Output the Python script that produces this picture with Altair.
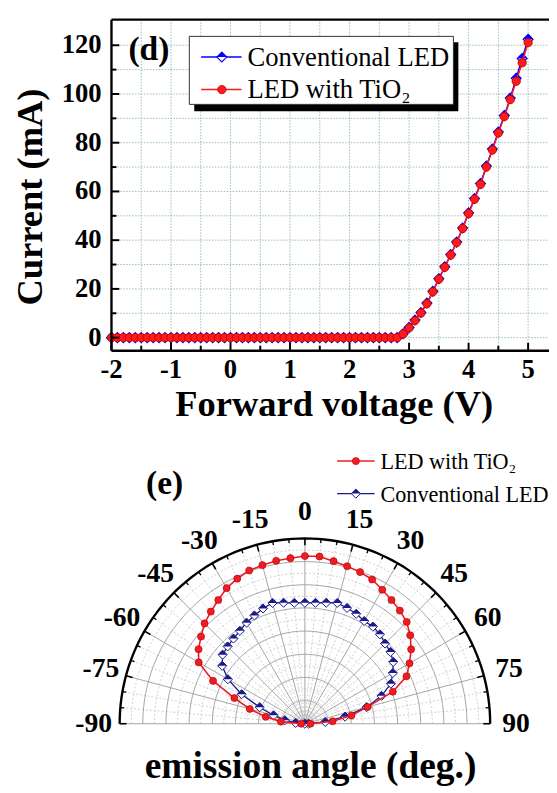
import altair as alt
import numpy as np
import pandas as pd

FONT = "Liberation Serif"

# ---------------- panel (d): I-V characteristics ----------------
voltage = [
    -2.0, -1.9, -1.8, -1.7, -1.6, -1.5, -1.4, -1.3, -1.2, -1.1,
    -1.0, -0.9, -0.8, -0.7, -0.6, -0.5, -0.4, -0.3, -0.2, -0.1,
    0.0, 0.1, 0.2, 0.3, 0.4, 0.5, 0.6, 0.7, 0.8, 0.9,
    1.0, 1.1, 1.2, 1.3, 1.4, 1.5, 1.6, 1.7, 1.8, 1.9,
    2.0, 2.1, 2.2, 2.3, 2.4, 2.5, 2.6, 2.7, 2.8, 2.9,
    3.0, 3.1, 3.2, 3.3, 3.4, 3.5, 3.6, 3.7, 3.8, 3.9,
    4.0, 4.1, 4.2, 4.3, 4.4, 4.5, 4.6, 4.7, 4.8, 4.9,
    5.0,
]
current_conventional = [
    0, 0, 0, 0, 0, 0, 0, 0, 0, 0,
    0, 0, 0, 0, 0, 0, 0, 0, 0, 0,
    0, 0, 0, 0, 0, 0, 0, 0, 0, 0,
    0, 0, 0, 0, 0, 0, 0, 0, 0, 0,
    0, 0, 0, 0, 0, 0, 0, 0, 0, 1.6,
    4.2, 7.2, 10.3, 14.2, 19.0, 24.2, 29.1, 34.1, 39.2, 45.0,
    51.2, 57.1, 63.3, 70.4, 77.4, 84.4, 91.2, 98.3, 106.5, 114.6,
    122.5,
]
current_tio2 = [
    0, 0, 0, 0, 0, 0, 0, 0, 0, 0,
    0, 0, 0, 0, 0, 0, 0, 0, 0, 0,
    0, 0, 0, 0, 0, 0, 0, 0, 0, 0,
    0, 0, 0, 0, 0, 0, 0, 0, 0, 0,
    0, 0, 0, 0, 0, 0, 0, 0, 0, 1.5,
    4.0, 7.0, 10.1, 13.9, 18.8, 24.0, 28.9, 33.9, 39.0, 44.8,
    50.9, 56.8, 62.9, 70.0, 77.0, 84.0, 90.7, 97.7, 105.2, 112.8,
    121.1,
]
iv_x_ticks = [-2, -1, 0, 1, 2, 3, 4, 5]
iv_x_minor = [-1.5, -0.5, 0.5, 1.5, 2.5, 3.5, 4.5]
iv_y_ticks = [0, 20, 40, 60, 80, 100, 120]
iv_y_minor = [10, 30, 50, 70, 90, 110]

# ---------------- panel (e): emission pattern ----------------
emission_angle = [-90, -85, -80, -75, -70, -65, -60, -55, -50, -45, -40, -35, -30,
                  -25, -20, -15, -10, -5, 0, 5, 10, 15, 20, 25, 30, 35, 40, 45,
                  50, 55, 60, 65, 70, 75, 80, 85, 90]
intensity_tio2 = [0.02, 0.13, 0.215, 0.308, 0.405, 0.547, 0.662, 0.701, 0.732, 0.766,
                  0.790, 0.815, 0.845, 0.864, 0.880, 0.886, 0.893, 0.897, 0.905, 0.906,
                  0.891, 0.880, 0.871, 0.859, 0.835, 0.815, 0.797, 0.777, 0.742, 0.700,
                  0.652, 0.605, 0.505, 0.350, 0.255, 0.150, 0.030]
intensity_conv = [0.0, 0.05, 0.11, 0.175, 0.26, 0.377, 0.48, 0.545, 0.58, 0.59,
                  0.60, 0.612, 0.63, 0.645, 0.662, 0.675, 0.663, 0.655, 0.653, 0.655,
                  0.663, 0.675, 0.665, 0.655, 0.640, 0.640, 0.630, 0.612, 0.603, 0.582,
                  0.548, 0.512, 0.44, 0.345, 0.22, 0.11, 0.02]
angle_labels = [-90, -75, -60, -45, -30, -15, 0, 15, 30, 45, 60, 75, 90]

# ---------------- layout (pixels) ----------------
OX, OY = 113, 8          # page position of the plot origin
W, H = 444, 721
def cx(p):
    return p - OX
def cy(p):
    return p - OY

PX_PER_V = 60.4
PX_PER_MA = 2.4725
XMAX = -2 + W / PX_PER_V
YTOP = cy(336.7) / PX_PER_MA
YBOT = YTOP - H / PX_PER_MA
IVX = alt.Scale(domain=[-2, XMAX], nice=False, zero=False)
IVY = alt.Scale(domain=[YBOT, YTOP], nice=False, zero=False)

R = 188.0
PCX, PCY = cx(309.3), cy(728.5)
PXS = alt.Scale(domain=[-PCX / R, (W - PCX) / R], nice=False, zero=False)
PYS = alt.Scale(domain=[(PCY - H) / R, PCY / R], nice=False, zero=False)

RED = "#ff1a1a"
BLUE = "#0000ff"
PRED = "#ee1c25"
NAVY = "#1a1a8a"
DIAMOND = "M0,-1L1,0L0,1L-1,0Z"
UPPER = "M-1,0L0,-1L1,0Z"
ONE = pd.DataFrame({"k": [0]})


def text_at(txt, x, y, size, bold=True, align="center", baseline="middle", angle=None, color="black"):
    kw = dict(font=FONT, fontSize=size, fontWeight="bold" if bold else "normal",
              align=align, baseline=baseline, color=color)
    if angle is not None:
        kw["angle"] = angle
    return alt.Chart(pd.DataFrame({"t": [txt]})).mark_text(**kw).encode(
        text="t:N", x=alt.value(cx(x)), y=alt.value(cy(y)))


def prule(x1, y1, x2, y2, color="black", width=1.0):
    return alt.Chart(ONE).mark_rule(color=color, strokeWidth=width).encode(
        x=alt.value(cx(x1)), x2=alt.value(cx(x2)), y=alt.value(cy(y1)), y2=alt.value(cy(y2)))


def pline(x1, x2, y, color, width):
    return alt.Chart(ONE).mark_rule(color=color, strokeWidth=width).encode(
        x=alt.value(cx(x1)), x2=alt.value(cx(x2)), y=alt.value(cy(y)))


def prect(x1, y1, x2, y2, **kw):
    return alt.Chart(ONE).mark_rect(**kw).encode(
        x=alt.value(cx(x1)), x2=alt.value(cx(x2)), y=alt.value(cy(y1)), y2=alt.value(cy(y2)))


def psym(x, y, shape, size, fill, stroke=None, sw=0.0):
    kw = dict(shape=shape, size=size, filled=True, fill=fill, opacity=1, strokeWidth=sw)
    if stroke:
        kw["stroke"] = stroke
    return alt.Chart(ONE).mark_point(**kw).encode(x=alt.value(cx(x)), y=alt.value(cy(y)))


# ================= panel (d) =================
iv = pd.DataFrame({"V": voltage, "conv": current_conventional, "tio2": current_tio2})
ivx = lambda f: alt.X(f, type="quantitative", scale=IVX, axis=None)
ivy = lambda f: alt.Y(f, type="quantitative", scale=IVY, axis=None)

FRAME_TOP, FRAME_BOT = 14, 350

grid_v = alt.Chart(pd.DataFrame({"g": iv_x_minor + iv_x_ticks[1:]})).mark_rule(
    color="#8fb6b6", strokeWidth=0.9, strokeDash=[1.5, 1.5]).encode(
    x=ivx("g"), y=alt.value(cy(FRAME_TOP)), y2=alt.value(cy(FRAME_BOT)))
grid_h = alt.Chart(pd.DataFrame({"g": iv_y_ticks + iv_y_minor})).mark_rule(
    color="#8fb6b6", strokeWidth=0.9, strokeDash=[1.5, 1.5]).encode(
    y=ivy("g"), x=alt.value(0), x2=alt.value(W))

xt_major = alt.Chart(pd.DataFrame({"t": iv_x_ticks})).mark_rule(color="black", strokeWidth=2).encode(
    x=ivx("t"), y=alt.value(cy(FRAME_BOT)), y2=alt.value(cy(FRAME_BOT) - 8))
xt_minor = alt.Chart(pd.DataFrame({"t": iv_x_minor})).mark_rule(color="black", strokeWidth=2).encode(
    x=ivx("t"), y=alt.value(cy(FRAME_BOT)), y2=alt.value(cy(FRAME_BOT) - 5))
yt_major = alt.Chart(pd.DataFrame({"t": iv_y_ticks})).mark_rule(color="black", strokeWidth=2).encode(
    y=ivy("t"), x=alt.value(0), x2=alt.value(8))
yt_minor = alt.Chart(pd.DataFrame({"t": iv_y_minor})).mark_rule(color="black", strokeWidth=2).encode(
    y=ivy("t"), x=alt.value(0), x2=alt.value(5))

xlab = alt.Chart(pd.DataFrame({"t": iv_x_ticks, "s": [str(v) for v in iv_x_ticks]})).mark_text(
    font=FONT, fontSize=27, fontWeight="bold", baseline="alphabetic", align="center").encode(
    x=ivx("t"), y=alt.value(cy(378)), text="s:N")
ylab = alt.Chart(pd.DataFrame({"t": iv_y_ticks, "s": [str(v) for v in iv_y_ticks]})).mark_text(
    font=FONT, fontSize=27, fontWeight="bold", baseline="middle", align="right").encode(
    y=ivy("t"), x=alt.value(cx(103)), text="s:N")

base_iv = alt.Chart(iv)
conv_line = base_iv.mark_line(color=BLUE, strokeWidth=1.5).encode(x=ivx("V"), y=ivy("conv"), order="V:Q")
conv_pts_o = base_iv.mark_point(shape=DIAMOND, size=100, filled=True, fill="white", stroke=BLUE,
                                strokeWidth=1.2, opacity=1).encode(x=ivx("V"), y=ivy("conv"))
conv_pts_f = base_iv.mark_point(shape=UPPER, size=100, filled=True, fill=BLUE, strokeWidth=0,
                                opacity=1).encode(x=ivx("V"), y=ivy("conv"))
tio2_line = base_iv.mark_line(color=RED, strokeWidth=1.5).encode(x=ivx("V"), y=ivy("tio2"), order="V:Q")
tio2_pts = base_iv.mark_circle(size=72, color=RED, stroke="#b80000", strokeWidth=0.8, opacity=1).encode(
    x=ivx("V"), y=ivy("tio2"))

frame = [
    prule(113, FRAME_TOP, 557, FRAME_TOP, width=2.4),
    prule(113, FRAME_TOP, 113, FRAME_BOT, width=2.4),
    prule(113, FRAME_BOT, 557, FRAME_BOT, width=2.4),
]

legend_d = [
    prect(197, 37, 465, 107, color="black"),
    prect(192, 31, 460, 100, fill="white", stroke="#333333", strokeWidth=1),
    pline(204, 245, 52, BLUE, 1.5),
    psym(225, 52, DIAMOND, 100, "white", BLUE, 1.2),
    psym(225, 52, UPPER, 100, BLUE),
    pline(204, 245, 85, RED, 1.5),
    psym(225, 85, "circle", 72, RED, "#b80000", 0.8),
    text_at("Conventional LED", 251, 53, 27, bold=False, align="left"),
    text_at("LED with TiO\u2082", 251, 86, 27, bold=False, align="left"),
]

panel_d = alt.layer(
    grid_v, grid_h,
    conv_line, conv_pts_o, conv_pts_f, tio2_line, tio2_pts,
    *frame, xt_major, xt_minor, yt_major, yt_minor, xlab, ylab,
    *legend_d,
    text_at("(d)", 151, 45, 34),
    text_at("Current (mA)", 43, 194, 37, baseline="alphabetic", angle=270),
    text_at("Forward voltage (V)", 339, 416, 37, baseline="alphabetic"),
)

# ================= panel (e) =================
pxe = lambda f: alt.X(f, type="quantitative", scale=PXS, axis=None)
pye = lambda f: alt.Y(f, type="quantitative", scale=PYS, axis=None)

# grid geometry
arc_deg = np.arange(-90, 91, 2)
solid_rings = pd.DataFrame([{"ring": k, "r": k / 8, "a": a} for k in range(1, 8) for a in arc_deg])
dotted_rings = pd.DataFrame([{"ring": k, "r": (k - 0.5) / 8, "a": a} for k in range(1, 9) for a in arc_deg])
outer_ring = pd.DataFrame({"r": 1.0, "a": arc_deg})
solid_spokes = pd.DataFrame({"a": list(range(-90, 91, 15))})
dotted_spokes = pd.DataFrame({"a": [a for a in range(-85, 90, 5) if a % 15 != 0]})

POLX = "datum.r*sin(datum.a*PI/180)"
POLY = "datum.r*cos(datum.a*PI/180)"

def ring_layer(df, color, width, dash=None):
    kw = dict(color=color, strokeWidth=width)
    if dash:
        kw["strokeDash"] = dash
    enc = dict(x=pxe("x"), y=pye("y"), order="a:Q")
    if "ring" in df.columns:
        enc["detail"] = "ring:N"
    return alt.Chart(df).transform_calculate(x=POLX, y=POLY).mark_line(**kw).encode(**enc)

def spoke_layer(df, r0, r1, color, width, dash=None):
    kw = dict(color=color, strokeWidth=width)
    if dash:
        kw["strokeDash"] = dash
    return alt.Chart(df).transform_calculate(
        x0=f"{r0}*sin(datum.a*PI/180)", y0=f"{r0}*cos(datum.a*PI/180)",
        x1=f"{r1}*sin(datum.a*PI/180)", y1=f"{r1}*cos(datum.a*PI/180)",
    ).mark_rule(**kw).encode(x=pxe("x0"), y=pye("y0"), x2="x1:Q", y2="y1:Q")

polar_df = pd.DataFrame({"a": emission_angle, "tio2": intensity_tio2, "conv": intensity_conv})
base_p = alt.Chart(polar_df)

def series(field):
    return base_p.transform_calculate(
        x=f"datum.{field}*sin(datum.a*PI/180)", y=f"datum.{field}*cos(datum.a*PI/180)")

p_conv_line = series("conv").mark_line(color=NAVY, strokeWidth=1.3).encode(x=pxe("x"), y=pye("y"), order="a:Q")
p_conv_o = series("conv").mark_point(shape=DIAMOND, size=85, filled=True, fill="white", stroke=NAVY,
                                     strokeWidth=1, opacity=1).encode(x=pxe("x"), y=pye("y"))
p_conv_f = series("conv").mark_point(shape=UPPER, size=85, filled=True, fill=NAVY, strokeWidth=0,
                                     opacity=1).encode(x=pxe("x"), y=pye("y"))
p_tio2_line = series("tio2").mark_line(color=PRED, strokeWidth=1.6).encode(x=pxe("x"), y=pye("y"), order="a:Q")
p_tio2_pts = series("tio2").mark_circle(size=52, color=PRED, stroke="#b00000", strokeWidth=0.6,
                                        opacity=1).encode(x=pxe("x"), y=pye("y"))

lab_df = pd.DataFrame({"a": angle_labels, "s": [str(v) for v in angle_labels]})
p_labels = alt.Chart(lab_df).transform_calculate(
    x="1.14*sin(datum.a*PI/180)", y="1.14*cos(datum.a*PI/180)").mark_text(
    font=FONT, fontSize=28, fontWeight="bold", align="center", baseline="middle").encode(
    x=pxe("x"), y=pye("y"), text="s:N")

legend_e = [
    pline(342, 380, 462, PRED, 1.5),
    psym(361, 462, "circle", 52, PRED, "#b00000", 0.6),
    text_at("LED with TiO\u2082", 386, 463, 22.5, bold=False, align="left"),
    pline(342, 380, 495, NAVY, 1.3),
    psym(361, 495, DIAMOND, 85, "white", NAVY, 1),
    psym(361, 495, UPPER, 85, NAVY),
    text_at("Conventional LED", 386, 496, 22.5, bold=False, align="left"),
]

panel_e = alt.layer(
    ring_layer(dotted_rings, "#c4c4c4", 0.8, [2, 2]),
    spoke_layer(dotted_spokes, 0, 1, "#c4c4c4", 0.8, [2, 2]),
    ring_layer(solid_rings, "#9c9c9c", 0.9),
    spoke_layer(solid_spokes, 0, 1, "#9c9c9c", 0.9),
    ring_layer(outer_ring, "black", 2.4),
    spoke_layer(solid_spokes, 1 - 7 / R, 1, "black", 1.6),
    spoke_layer(dotted_spokes, 1 - 4 / R, 1, "black", 1.3),
    p_conv_line, p_conv_o, p_conv_f,
    p_tio2_line, p_tio2_pts,
    p_labels,
    *legend_e,
    text_at("(e)", 167, 485, 34),
    text_at("emission angle (deg.)", 315, 784, 38, baseline="alphabetic"),
)

chart = alt.layer(panel_d, panel_e).resolve_scale(x="independent", y="independent").properties(
    width=W, height=H,
    padding={"left": OX - 8, "top": OY - 8, "right": 0, "bottom": 64},
    autosize=alt.AutoSizeParams(type="none"),
).configure_view(stroke=None)

chart.save("out.html", embed_options={"renderer": "svg", "actions": False})
